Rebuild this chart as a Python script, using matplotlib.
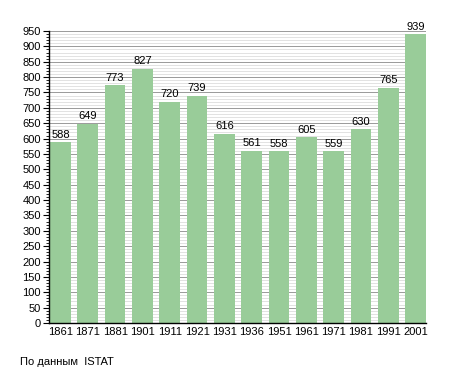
import matplotlib
matplotlib.use("Agg")
import matplotlib.pyplot as plt
from matplotlib.ticker import MultipleLocator

years = ["1861", "1871", "1881", "1901", "1911", "1921", "1931", "1936",
         "1951", "1961", "1971", "1981", "1991", "2001"]
population = [588, 649, 773, 827, 720, 739, 616, 561, 558, 605, 559, 630, 765, 939]

fig = plt.figure(figsize=(4.55, 3.73), dpi=100)
ax = fig.add_axes([49/455, 1-323/373, 377/455, 292/373])

x = range(len(years))
ax.set_axisbelow(True)
ax.yaxis.set_major_locator(MultipleLocator(50))
ax.yaxis.set_minor_locator(MultipleLocator(10))
ax.grid(which="minor", axis="y", color="#dddddd", linewidth=0.6)
ax.grid(which="major", axis="y", color="#999999", linewidth=0.7)
bars = ax.bar(x, population, width=0.76, color="#99cc99")
for xi, v in zip(x, population):
    ax.text(xi, v + 8, str(v), ha="center", va="bottom", fontsize=8,
            family="Liberation Sans")
ax.set_xlim(-0.42, len(years) - 1 + 0.38)
ax.set_ylim(0, 950)
ax.set_xticks(list(x))
ax.set_xticklabels(years)
for s in ["top", "right"]:
    ax.spines[s].set_visible(False)
ax.spines["left"].set_linewidth(1)
ax.spines["bottom"].set_linewidth(1)
ax.tick_params(axis="x", length=0, labelsize=8, pad=3)
ax.tick_params(axis="y", which="major", length=4, labelsize=8, pad=2)
ax.tick_params(axis="y", which="minor", length=2)
for lab in ax.get_xticklabels() + ax.get_yticklabels():
    lab.set_family("Liberation Sans")

fig.text(20/455, 1-362/373, "По данным  ISTAT", fontsize=8,
         family="Liberation Sans", va="center")
fig.savefig("out.png", dpi=100)
